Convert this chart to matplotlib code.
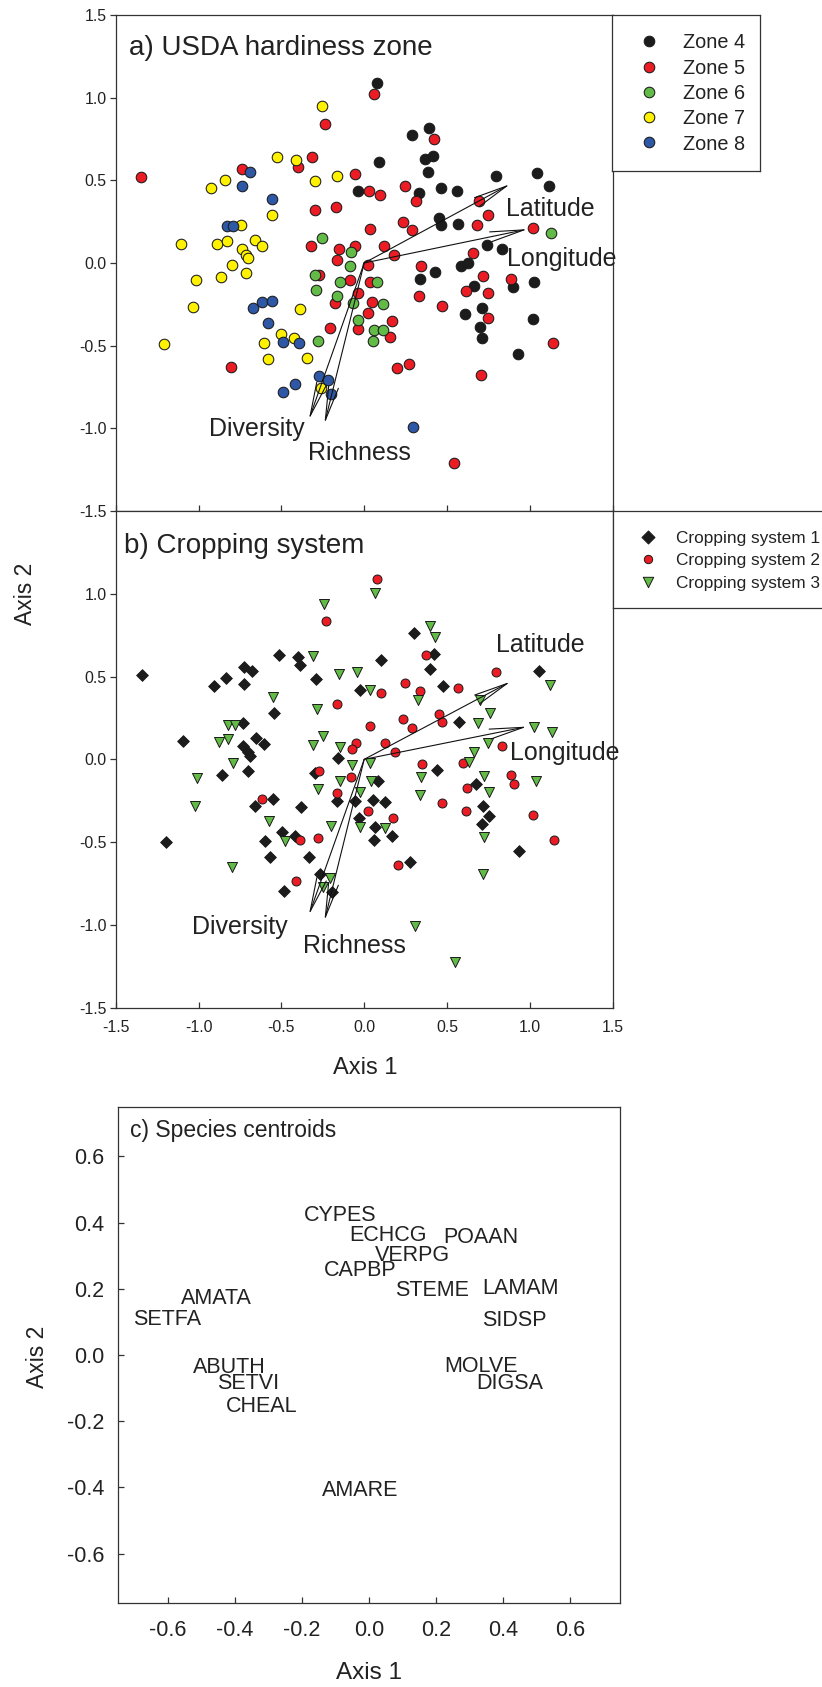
import matplotlib
matplotlib.use('Agg')
import matplotlib.pyplot as plt
from matplotlib.ticker import FormatStrFormatter

plt.rcParams['font.family'] = ['Liberation Sans', 'DejaVu Sans']
plt.rcParams['axes.unicode_minus'] = False

# ---------------- data: panel a (USDA hardiness zone) ----------------
zone4_x = [0.078, 0.290, 0.088, -0.039, 0.390, 0.370, 0.414, 0.388, 0.330, 0.466, 0.563, 0.794,
           1.044, 1.114, 0.450, 0.462, 0.567, 0.742, 0.829, 0.585, 0.625, 0.430, 0.334, 0.899,
           1.026, 0.660, 0.611, 0.710, 1.016, 0.702, 0.712, 0.927]
zone4_y = [1.091, 0.775, 0.610, 0.433, 0.819, 0.632, 0.648, 0.553, 0.423, 0.453, 0.437, 0.529,
           0.546, 0.463, 0.272, 0.227, 0.233, 0.109, 0.085, -0.020, -0.002, -0.053, -0.095, -0.147,
           -0.117, -0.141, -0.306, -0.274, -0.337, -0.387, -0.453, -0.548]
zone5_x = [-1.348, 0.058, -0.234, -0.397, -0.318, -0.739, -0.057, 0.028, 0.097, 0.247, 0.310, -0.296,
           -0.169, 0.234, 0.287, 0.032, -0.320, -0.155, -0.053, -0.165, 0.118, 0.179, 0.022, -0.270,
           -0.805, -0.084, -0.177, -0.039, 0.036, 0.048, 0.022, 0.169, -0.208, -0.036, 0.153, 0.199,
           0.269, 0.344, 0.716, 0.885, 0.617, 0.746, 0.328, 0.468, 0.748, 1.141, 0.708, 0.541,
           0.422, 0.692, 0.750, 0.678, 1.018, 0.654]
zone5_y = [0.523, 1.021, 0.840, 0.578, 0.640, 0.568, 0.541, 0.435, 0.409, 0.467, 0.373, 0.322,
           0.340, 0.247, 0.197, 0.205, 0.100, 0.085, 0.100, 0.020, 0.105, 0.046, -0.010, -0.071,
           -0.631, -0.105, -0.242, -0.181, -0.117, -0.236, -0.302, -0.349, -0.393, -0.399, -0.450, -0.635,
           -0.610, -0.020, -0.081, -0.095, -0.171, -0.181, -0.202, -0.262, -0.335, -0.482, -0.679, -1.211,
           0.749, 0.375, 0.292, 0.231, 0.209, 0.062]
zone6_x = [-0.256, -0.078, -0.087, -0.300, -0.280, -0.290, -0.149, -0.165, -0.065, 0.076, 0.116,
           -0.039, 0.062, 0.116, 0.052, 1.130]
zone6_y = [0.151, 0.064, -0.016, -0.071, -0.469, -0.161, -0.117, -0.202, -0.242, -0.117, -0.246,
           -0.345, -0.403, -0.407, -0.474, 0.179]
zone7_x = [-0.253, -0.527, -0.410, -0.843, -0.922, -0.300, -0.163, -0.558, -1.103, -0.887, -0.829,
           -0.742, -0.658, -0.614, -0.736, -0.712, -0.702, -0.797, -0.712, -0.863, -1.018, -1.209,
           -1.034, -0.501, -0.604, -0.578, -0.422, -0.389, -0.346, -0.260]
zone7_y = [0.950, 0.640, 0.622, 0.503, 0.453, 0.497, 0.529, 0.290, 0.117, 0.115, 0.133,
           0.230, 0.137, 0.100, 0.085, 0.048, 0.028, -0.014, -0.060, -0.085, -0.101, -0.488,
           -0.266, -0.431, -0.486, -0.578, -0.453, -0.278, -0.576, -0.755]
zone8_x = [-0.688, -0.739, -0.559, -0.829, -0.793, -0.672, -0.618, -0.558, -0.579, -0.491, -0.395,
           -0.270, -0.220, -0.203, -0.415, -0.491, 0.293]
zone8_y = [0.548, 0.463, 0.390, 0.225, 0.221, -0.270, -0.238, -0.230, -0.361, -0.480, -0.486,
           -0.685, -0.705, -0.792, -0.731, -0.782, -0.993]

# ---------------- data: panel b (Cropping system) ----------------
cs1_x = [-1.340, 0.300, 0.102, -0.515, -0.397, -0.385, -0.727, -0.678, -0.835, -0.909, -0.727, -0.290,
         -0.028, -0.547, -0.730, -1.095, -0.652, -0.606, -0.733, -0.702, -0.688, -0.157, -0.857, -0.702,
         -0.294, -1.195, -0.662, -0.551, -0.380, -0.495, -0.416, -0.598, -0.567, -0.336, -0.485, -0.167,
         -0.057, 0.086, 0.056, 0.123, -0.033, 0.068, 0.062, 0.167, 0.278, -0.264, -0.193, 0.424,
         0.396, 0.474, 1.054, 0.575, 0.440, 0.672, 0.720, 0.756, 0.710, 0.933]
cs1_y = [0.512, 0.764, 0.600, 0.629, 0.617, 0.568, 0.560, 0.536, 0.492, 0.441, 0.453, 0.488,
         0.421, 0.280, 0.220, 0.109, 0.129, 0.093, 0.079, 0.042, 0.018, 0.008, -0.093, -0.068,
         -0.085, -0.497, -0.284, -0.239, -0.290, -0.441, -0.461, -0.495, -0.592, -0.588, -0.793, -0.254,
         -0.254, -0.133, -0.245, -0.260, -0.354, -0.411, -0.487, -0.461, -0.618, -0.693, -0.803, 0.637,
         0.546, 0.443, 0.534, 0.224, -0.062, -0.149, -0.280, -0.344, -0.390, -0.556]
cs2_x = [0.078, -0.232, 0.102, 0.249, 0.334, -0.167, 0.237, 0.290, 0.034, -0.048, -0.075, 0.123,
         0.185, -0.270, -0.618, -0.390, -0.410, -0.078, -0.163, 0.022, 0.173, -0.280, 0.203, 0.374,
         0.569, 0.797, 0.450, 0.468, 0.833, 0.595, 0.346, 0.889, 0.471, 0.619, 0.903, 0.616,
         1.020, 1.144]
cs2_y = [1.088, 0.838, 0.403, 0.463, 0.415, 0.337, 0.244, 0.190, 0.200, 0.099, 0.063, 0.099,
         0.042, -0.073, -0.239, -0.487, -0.737, -0.109, -0.205, -0.310, -0.354, -0.475, -0.636, 0.628,
         0.433, 0.526, 0.274, 0.226, 0.079, -0.024, -0.028, -0.097, -0.264, -0.173, -0.149, -0.310,
         -0.338, -0.485]
cs3_x = [0.066, -0.240, -0.310, -0.155, -0.046, 0.038, 0.324, -0.551, -0.286, -0.821, -0.781, -0.879,
         -0.823, -0.791, -0.246, -0.310, -0.149, -0.075, 0.032, -1.010, -1.024, -0.797, -0.572, -0.481,
         -0.280, -0.145, -0.028, 0.042, -0.028, -0.199, 0.127, -0.209, -0.246, 0.304, 0.400, 0.430,
         1.124, 0.700, 0.760, 0.686, 1.026, 1.136, 0.748, 0.660, 0.631, 0.344, 0.726, 1.038,
         0.338, 0.752, 0.722, 0.716, 0.551]
cs3_y = [1.005, 0.937, 0.627, 0.516, 0.528, 0.421, 0.360, 0.375, 0.304, 0.208, 0.208, 0.105,
         0.121, -0.022, 0.139, 0.089, 0.073, -0.032, -0.022, -0.110, -0.284, -0.648, -0.374, -0.491,
         -0.179, -0.133, -0.199, -0.133, -0.411, -0.405, -0.417, -0.717, -0.769, -1.009, 0.808, 0.737,
         0.450, 0.359, 0.280, 0.218, 0.198, 0.165, 0.097, 0.042, -0.014, -0.105, -0.098, -0.133,
         -0.213, -0.195, -0.467, -0.693, -1.222]

# ---------------- data: biplot vectors ----------------
vec_names = ['Latitude', 'Longitude', 'Diversity', 'Richness']
vec_a_x = [0.881, 0.987, -0.334, -0.240]
vec_a_y = [0.477, 0.205, -0.947, -0.973]
vec_b_x = [0.883, 0.984, -0.334, -0.240]
vec_b_y = [0.469, 0.198, -0.940, -0.975]
# label anchor (left, baseline) in data units
lab_a_x = [0.853, 0.863, -0.934, -0.340]
lab_a_y = [0.282, -0.020, -1.048, -1.189]
lab_b_x = [0.797, 0.883, -1.038, -0.371]
lab_b_y = [0.647, -0.004, -1.055, -1.172]

# ---------------- data: panel c (species centroids) ----------------
species = ['CYPES', 'ECHCG', 'POAAN', 'VERPG', 'CAPBP', 'STEME', 'LAMAM', 'AMATA', 'SETFA',
           'SIDSP', 'ABUTH', 'MOLVE', 'SETVI', 'DIGSA', 'CHEAL', 'AMARE']
sp_x = [-0.085, 0.057, 0.334, 0.130, -0.025, 0.189, 0.452, -0.455, -0.602,
        0.433, -0.418, 0.334, -0.362, 0.419, -0.321, -0.026]
sp_y = [0.430, 0.370, 0.361, 0.309, 0.262, 0.202, 0.207, 0.179, 0.115,
        0.113, -0.029, -0.026, -0.080, -0.080, -0.148, -0.401]

ab_ticks = [-1.5, -1.0, -0.5, 0.0, 0.5, 1.0, 1.5]
c_ticks = [-0.6, -0.4, -0.2, 0.0, 0.2, 0.4, 0.6]

# ---------------- styling ----------------
RED = '#EC1C24'
GREEN = '#62BB46'
YELLOW = '#FFF200'
BLUE = '#2E57A6'
BLACK = '#1C1C1C'
SPINE = '#333333'

W, H = 822, 1687
fig = plt.figure(figsize=(W / 100, H / 100), dpi=100)


def add_axes_px(x0, y0, x1, y1):
    return fig.add_axes([x0 / W, 1 - y1 / H, (x1 - x0) / W, (y1 - y0) / H])


axa = add_axes_px(115.7, 15, 612.7, 511)
axb = add_axes_px(115.7, 511, 612.7, 1007.7)
axc = add_axes_px(117.7, 1106.7, 620.4, 1603.3)

for ax in (axa, axb, axc):
    for s in ax.spines.values():
        s.set_color(SPINE)
        s.set_linewidth(0.9)

for ax in (axa, axb):
    ax.set_xlim(-1.5, 1.5)
    ax.set_ylim(-1.5, 1.5)
    ax.tick_params(axis='y', direction='out', length=4, width=0.9, color=SPINE,
                   labelsize=11.4, pad=2.4, labelcolor='#222222')
    ax.tick_params(axis='x', direction='in', length=4, width=0.9, color=SPINE,
                   labelsize=11.4, pad=8.6, labelcolor='#222222')
    ax.yaxis.set_major_formatter(FormatStrFormatter('%.1f'))
    ax.xaxis.set_major_formatter(FormatStrFormatter('%.1f'))

axa.set_yticks(ab_ticks)
axa.set_xticks(ab_ticks)
axa.tick_params(axis='x', labelbottom=False)
axb.set_xticks(ab_ticks)
axb.set_yticks(ab_ticks[:-1])

# panel a points
zone_sets = [(zone4_x, zone4_y, BLACK), (zone5_x, zone5_y, RED), (zone6_x, zone6_y, GREEN),
             (zone7_x, zone7_y, YELLOW), (zone8_x, zone8_y, BLUE)]
for xs, ys, c in zone_sets:
    axa.scatter(xs, ys, s=58, marker='o', facecolor=c, edgecolor='#1a1a1a',
                linewidths=0.75, zorder=3)

# panel b points
axb.scatter(cs1_x, cs1_y, s=36, marker='D', facecolor=BLACK, edgecolor='#1a1a1a',
            linewidths=0.6, zorder=3)
axb.scatter(cs2_x, cs2_y, s=42, marker='o', facecolor=RED, edgecolor='#1a1a1a',
            linewidths=0.7, zorder=3)
axb.scatter(cs3_x, cs3_y, s=52, marker='v', facecolor=GREEN, edgecolor='#1a1a1a',
            linewidths=0.7, zorder=3)


def draw_vectors(ax, vx, vy, lx, ly):
    for i, name in enumerate(vec_names):
        ax.annotate('', xy=(vx[i], vy[i]), xytext=(0, 0),
                    arrowprops=dict(arrowstyle='->,head_length=2.45,head_width=0.36',
                                    mutation_scale=10, lw=0.8, color='#111111',
                                    shrinkA=0, shrinkB=0),
                    zorder=5)
        ax.text(lx[i], ly[i], name, fontsize=18, ha='left', va='baseline',
                color='#222222', zorder=6)


draw_vectors(axa, vec_a_x, vec_a_y, lab_a_x, lab_a_y)
draw_vectors(axb, vec_b_x, vec_b_y, lab_b_x, lab_b_y)

axa.text(0.026, 0.919, 'a) USDA hardiness zone', transform=axa.transAxes, fontsize=20,
         ha='left', va='baseline', color='#222222')
axb.text(0.016, 0.916, 'b) Cropping system', transform=axb.transAxes, fontsize=20,
         ha='left', va='baseline', color='#222222')

fig.text(25 / W, 1 - 594 / H, 'Axis 2', rotation=90, fontsize=16.5, ha='center',
         va='center', color='#222222')
fig.text(365 / W, 1 - 1068 / H, 'Axis 1', fontsize=17, ha='center', va='center',
         color='#222222')

# legend a (drawn in a pixel-coordinate box)
lga = add_axes_px(611.7, 14.7, 760.3, 170.7)
lga.set_xlim(611.7, 760.3)
lga.set_ylim(170.7, 14.7)
lga.set_xticks([])
lga.set_yticks([])
for s in lga.spines.values():
    s.set_color(SPINE)
    s.set_linewidth(0.9)
zone_labels = ['Zone 4', 'Zone 5', 'Zone 6', 'Zone 7', 'Zone 8']
zone_colors = [BLACK, RED, GREEN, YELLOW, BLUE]
rows_a = [41, 66.7, 91.7, 116.7, 142.0]
for yy, lab, c in zip(rows_a, zone_labels, zone_colors):
    lga.scatter([649.3], [yy], s=58, marker='o', facecolor=c, edgecolor='#1a1a1a',
                linewidths=0.75, clip_on=False)
    lga.text(683.3, yy, lab, fontsize=14.3, ha='left', va='center_baseline', color='#222222')

# legend b
lgb = add_axes_px(612.7, 511, 840, 607.7)
lgb.set_xlim(612.7, 840)
lgb.set_ylim(607.7, 511)
lgb.set_xticks([])
lgb.set_yticks([])
for s in lgb.spines.values():
    s.set_color(SPINE)
    s.set_linewidth(0.9)
cs_labels = ['Cropping system 1', 'Cropping system 2', 'Cropping system 3']
cs_markers = [('D', BLACK, 44), ('o', RED, 36), ('v', GREEN, 56)]
rows_b = [536.7, 559.3, 581.7]
for yy, lab, (m, c, sz) in zip(rows_b, cs_labels, cs_markers):
    lgb.scatter([647.7], [yy], s=sz, marker=m, facecolor=c, edgecolor='#1a1a1a',
                linewidths=0.7, clip_on=False)
    lgb.text(676, yy, lab, fontsize=12.4, ha='left', va='center_baseline', color='#222222')

# ---------------- panel c ----------------
axc.set_xlim(-0.75, 0.75)
axc.set_ylim(-0.75, 0.75)
axc.set_xticks(c_ticks)
axc.set_yticks(c_ticks)
axc.xaxis.set_major_formatter(FormatStrFormatter('%.1f'))
axc.yaxis.set_major_formatter(FormatStrFormatter('%.1f'))
axc.tick_params(axis='y', direction='in', length=4, width=0.9, color=SPINE,
                labelsize=15.5, pad=9.6, labelcolor='#222222')
axc.tick_params(axis='x', direction='in', length=4.5, width=0.9, color=SPINE,
                labelsize=15.5, pad=12.0, labelcolor='#222222')
for name, xx, yy in zip(species, sp_x, sp_y):
    axc.text(xx, yy, name, fontsize=15.5, ha='center', va='center_baseline', color='#222222')
axc.text(0.0245, 0.938, 'c) Species centroids', transform=axc.transAxes, fontsize=16.5,
         ha='left', va='baseline', color='#222222')
fig.text(37 / W, 1 - 1357 / H, 'Axis 2', rotation=90, fontsize=16.5, ha='center',
         va='center', color='#222222')
fig.text(369 / W, 1 - 1673 / H, 'Axis 1', fontsize=17.5, ha='center', va='center',
         color='#222222')

fig.savefig('out.png', dpi=100)
